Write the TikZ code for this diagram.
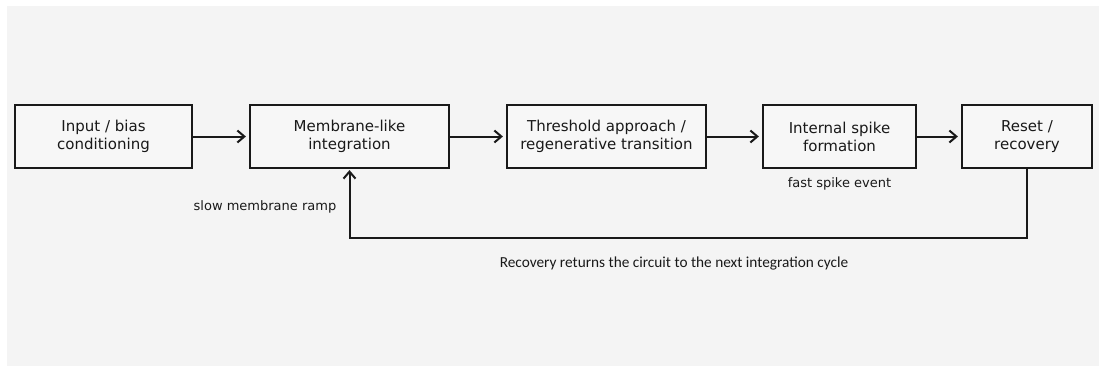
\documentclass[tikz,border=0pt]{standalone}
\usepackage{fontspec}
\setmainfont{DejaVu Sans}
\newfontfamily\notefont{Carlito}
\usepackage{tikz}
\usetikzlibrary{arrows.meta,positioning}
\definecolor{nbgray}{RGB}{244,244,244}
\definecolor{nbfill}{RGB}{247,247,247}
\definecolor{nbink}{RGB}{25,25,25}
\tikzstyle{arrow} = [line width=2pt,-{Straight Barb[length=7pt,width=12pt,line width=2pt]},color=nbink,shorten >=3pt]
\tikzstyle{stage} = [rectangle, minimum height=63pt, align=center, draw=nbink, fill=nbfill, line width=2.2pt, text=nbink, font=\fontsize{15}{18}\selectfont, inner sep=0pt]
\tikzstyle{note} = [text=nbink, font=\fontsize{13}{15}\selectfont, inner sep=0pt]

\begin{document}
\begin{tikzpicture}[x=1pt,y=1pt]
% canvas
\useasboundingbox (0,0) rectangle (1106,-372);
\fill[white] (0,0) rectangle (1106,-372);
\fill[nbgray] (7,-6) rectangle (1099,-366);

% stages, left to right
\node (input) [stage, minimum width=177pt] at (103.5,-136.5) {Input / bias\\conditioning};
\node (integ) [stage, minimum width=199pt] at (349.5,-136.5) {Membrane-like\\integration};
\node (thresh) [stage, minimum width=199pt] at (606.5,-136.5) {Threshold approach /\\regenerative transition};
\node (spike) [stage, minimum width=153pt] at (839.5,-136.5) {Internal spike\\formation};
\node (reset) [stage, minimum width=130pt] at (1027,-136.5) {Reset /\\recovery};

% labels
\node (ramp) [note] at (265,-207) {slow membrane ramp};
\node (fast) [note] at (839.5,-184) {fast spike event};
\node (cycle) [note, font=\notefont\fontsize{15.3}{17}\selectfont] at (674,-264) {Recovery returns the circuit to the next integration cycle};

% forward path
\draw[arrow] (input) -- (integ);
\draw[arrow] (integ) -- (thresh);
\draw[arrow] (thresh) -- (spike);
\draw[arrow] (spike) -- (reset);

% feedback loop
\coordinate (loop) at (349.5,-238);
\draw[arrow, shorten >=1pt] (reset.south) |- (loop) -- (integ.south);
\end{tikzpicture}
\end{document}
